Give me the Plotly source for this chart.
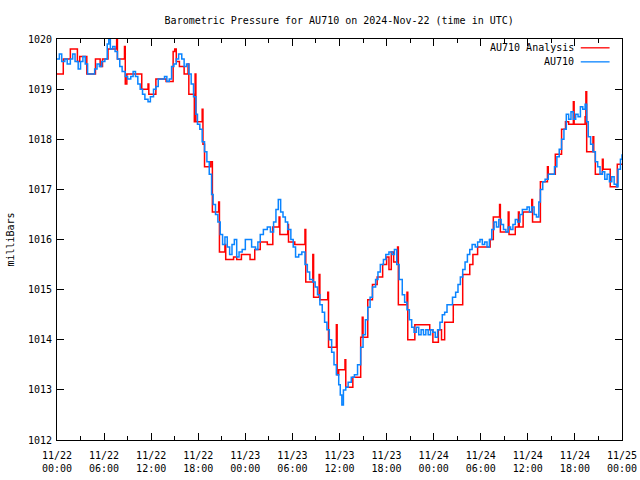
import pandas as pd
import plotly.graph_objects as go

# ---- data (hours since 2024-11-22 00:00 UTC, pressure in mb) ----
au710_hours = [0.0, 0.3, 0.6, 1.0, 1.3, 1.7, 2.0, 2.3, 2.7, 3.0, 3.3, 3.6, 3.9, 4.4, 4.8, 5.1, 5.4, 5.7,
               6.1, 6.4, 6.6, 6.8, 7.1, 7.4, 7.7, 8.0, 8.3, 8.7, 9.0, 9.4, 9.7, 10.0, 10.3, 10.6, 10.9,
               11.2, 11.6, 11.9, 12.3, 12.6, 12.9, 13.3, 13.7, 14.0, 14.3, 14.6, 14.9, 15.2, 15.5, 15.9,
               16.2, 16.5, 16.8, 17.1, 17.4, 17.7, 17.9, 18.2, 18.5, 18.8, 19.1, 19.4, 19.7, 19.9, 20.2,
               20.5, 20.8, 21.1, 21.4, 21.7, 22.0, 22.3, 22.6, 22.9, 23.2, 23.6, 24.0, 24.4, 24.8, 25.3,
               25.6, 25.9, 26.3, 26.8, 27.2, 27.6, 27.9, 28.2, 28.5, 28.8, 29.1, 29.4, 29.8, 30.1, 30.4,
               30.8, 31.2, 31.6, 31.9, 32.2, 32.6, 32.9, 33.2, 33.5, 33.8, 34.1, 34.4, 34.7, 35.0, 35.3,
               35.6, 35.9, 36.1, 36.3, 36.5, 36.8, 37.1, 37.5, 37.9, 38.3, 38.7, 39.0, 39.3, 39.6, 39.9,
               40.2, 40.6, 40.9, 41.2, 41.6, 41.9, 42.3, 42.7, 43.0, 43.3, 43.6, 44.0, 44.3, 44.6, 44.9,
               45.2, 45.5, 45.8, 46.1, 46.4, 46.7, 47.0, 47.3, 47.6, 47.9, 48.2, 48.5, 48.8, 49.1, 49.4,
               49.7, 50.1, 50.4, 50.8, 51.1, 51.4, 51.7, 52.0, 52.3, 52.6, 52.9, 53.3, 53.6, 53.9, 54.2,
               54.5, 54.8, 55.1, 55.4, 55.7, 56.0, 56.3, 56.6, 56.9, 57.2, 57.5, 57.8, 58.1, 58.4, 58.7,
               59.0, 59.3, 59.6, 59.9, 60.2, 60.5, 60.8, 61.1, 61.4, 61.6, 61.9, 62.2, 62.6, 63.0, 63.4,
               63.7, 64.0, 64.3, 64.6, 64.9, 65.2, 65.5, 65.8, 66.1, 66.4, 66.7, 67.0, 67.3, 67.5, 67.7,
               68.0, 68.3, 68.6, 68.9, 69.2, 69.5, 69.8, 70.1, 70.4, 70.7, 71.0, 71.3, 71.5, 71.8, 72.0]
au710_mb = [1019.6, 1019.7, 1019.55, 1019.6, 1019.5, 1019.6, 1019.7, 1019.55, 1019.4, 1019.55, 1019.65,
            1019.5, 1019.3, 1019.3, 1019.4, 1019.5, 1019.45, 1019.55, 1019.6, 1019.9, 1020.0, 1019.8,
            1019.85, 1019.75, 1019.6, 1019.45, 1019.35, 1019.25, 1019.2, 1019.25, 1019.35, 1019.25,
            1019.1, 1019.0, 1018.9, 1018.8, 1018.75, 1018.85, 1019.0, 1019.05, 1019.2, 1019.2, 1019.25,
            1019.15, 1019.2, 1019.45, 1019.5, 1019.6, 1019.7, 1019.6, 1019.45, 1019.5, 1019.3, 1019.1,
            1018.85, 1018.5, 1018.3, 1018.2, 1017.95, 1017.75, 1017.55, 1017.3, 1016.9, 1016.7, 1016.5,
            1016.35, 1016.1, 1015.9, 1016.05, 1015.85, 1015.7, 1015.9, 1016.0, 1015.65, 1015.75, 1015.8,
            1016.0, 1016.0, 1015.85, 1015.8, 1015.95, 1016.1, 1016.2, 1016.25, 1016.15, 1016.35, 1016.6,
            1016.8, 1016.55, 1016.45, 1016.35, 1016.2, 1016.0, 1015.85, 1015.65, 1015.7, 1015.75, 1015.5,
            1015.35, 1015.2, 1015.15, 1015.05, 1014.9, 1014.7, 1014.55, 1014.35, 1014.2, 1014.0, 1013.75,
            1013.5, 1013.3, 1013.1, 1012.9, 1012.7, 1013.0, 1013.05, 1013.15, 1013.25, 1013.3, 1013.5,
            1013.85, 1014.1, 1014.4, 1014.65, 1014.85, 1015.05, 1015.2, 1015.35, 1015.5, 1015.6, 1015.7,
            1015.75, 1015.7, 1015.8, 1015.5, 1015.2, 1014.9, 1014.75, 1014.6, 1014.4, 1014.25, 1014.15,
            1014.25, 1014.1, 1014.2, 1014.1, 1014.2, 1014.1, 1014.2, 1014.15, 1014.05, 1014.2, 1014.35,
            1014.5, 1014.55, 1014.7, 1014.7, 1014.85, 1014.95, 1015.1, 1015.25, 1015.4, 1015.55, 1015.7,
            1015.8, 1015.9, 1015.85, 1015.95, 1016.0, 1015.9, 1015.95, 1015.85, 1016.0, 1016.2, 1016.35,
            1016.25, 1016.4, 1016.3, 1016.2, 1016.15, 1016.25, 1016.2, 1016.3, 1016.4, 1016.35, 1016.5,
            1016.6, 1016.6, 1016.65, 1016.55, 1016.65, 1016.5, 1016.45, 1016.75, 1017.0, 1017.15, 1017.2,
            1017.3, 1017.3, 1017.45, 1017.65, 1017.8, 1018.0, 1018.2, 1018.5, 1018.4, 1018.55, 1018.4,
            1018.5, 1018.45, 1018.65, 1018.6, 1018.7, 1018.35, 1018.05, 1017.9, 1017.75, 1017.55, 1017.45,
            1017.3, 1017.35, 1017.2, 1017.3, 1017.15, 1017.25, 1017.1, 1017.05, 1017.4, 1017.6, 1017.7]

analysis_hours = [0.0, 0.8, 1.7, 2.6, 2.9, 3.8, 4.9, 5.5, 5.8, 6.5, 7.6, 7.7, 8.6, 8.7, 8.9, 10.8, 11.6,
                  11.7, 12.6, 13.9, 14.8, 15.0, 15.2, 15.6, 16.2, 16.7, 16.8, 17.5, 17.6, 17.7, 18.5,
                  18.6, 18.8, 19.6, 19.8, 20.6, 20.7, 21.4, 21.5, 22.5, 22.9, 23.5, 24.6, 25.2, 25.9,
                  26.8, 27.5, 28.3, 28.4, 29.4, 29.5, 30.3, 31.6, 31.7, 32.6, 32.7, 33.4, 33.5, 34.5,
                  34.6, 35.6, 35.7, 35.9, 36.7, 36.8, 37.7, 38.7, 38.9, 39.0, 39.6, 40.2, 40.8, 41.5,
                  42.0, 42.3, 42.6, 42.9, 43.4, 43.5, 44.6, 44.7, 45.6, 47.5, 47.9, 48.6, 49.0, 49.4,
                  50.5, 51.7, 52.6, 53.0, 53.6, 55.2, 55.6, 56.4, 56.5, 57.5, 57.6, 58.4, 58.8, 58.9,
                  59.4, 60.5, 60.6, 61.6, 62.5, 62.6, 63.5, 64.3, 64.8, 65.2, 65.8, 65.9, 66.3, 67.3,
                  67.4, 67.5, 68.3, 68.4, 68.6, 69.5, 69.6, 70.5, 71.4, 72.0]
analysis_mb = [1019.3, 1019.6, 1019.8, 1019.55, 1019.65, 1019.3, 1019.6, 1019.45, 1019.6, 1019.8, 1020.0,
               1019.6, 1019.85, 1019.1, 1019.3, 1019.0, 1019.1, 1018.9, 1019.2, 1019.15, 1019.75, 1019.8,
               1019.55, 1019.45, 1019.3, 1019.5, 1018.9, 1018.35, 1019.3, 1018.35, 1018.6, 1017.9,
               1017.45, 1017.55, 1016.55, 1016.75, 1015.75, 1015.9, 1015.6, 1015.65, 1015.6, 1015.7,
               1015.6, 1015.8, 1015.95, 1015.9, 1016.25, 1016.45, 1016.1, 1016.3, 1015.95, 1015.9,
               1016.2, 1015.15, 1015.7, 1014.85, 1015.3, 1014.8, 1014.95, 1013.85, 1014.3, 1013.3,
               1013.4, 1013.6, 1013.05, 1013.25, 1014.05, 1014.45, 1014.05, 1014.8, 1015.1, 1015.25,
               1015.5, 1015.65, 1015.4, 1015.75, 1015.55, 1015.85, 1014.7, 1014.95, 1014.0, 1014.3,
               1014.2, 1013.95, 1014.2, 1014.0, 1014.35, 1014.7, 1015.3, 1015.5, 1015.7, 1015.85, 1016.0,
               1016.45, 1016.7, 1016.15, 1016.55, 1016.1, 1016.25, 1016.55, 1016.25, 1016.55, 1016.8,
               1016.35, 1017.15, 1017.45, 1017.3, 1017.7, 1018.2, 1018.35, 1018.3, 1018.75, 1018.3,
               1018.3, 1018.45, 1018.95, 1017.75, 1018.05, 1017.75, 1017.3, 1017.6, 1017.4, 1017.05,
               1017.5, 1017.5]

start = pd.Timestamp("2024-11-22 00:00")
t_au = start + pd.to_timedelta(au710_hours, unit="h")
t_an = start + pd.to_timedelta(analysis_hours, unit="h")

FONT = "DejaVu Sans Mono"
RED = "#ff0000"
BLUE = "#0a84ff"

fig = go.Figure()
fig.add_trace(go.Scatter(x=t_an, y=analysis_mb, mode="lines", line=dict(color=RED, width=1.5, shape="hv"),
                         name="AU710 Analysis"))
fig.add_trace(go.Scatter(x=t_au, y=au710_mb, mode="lines", line=dict(color=BLUE, width=1.5, shape="hv"),
                         name="AU710"))

fig.update_layout(
    width=640, height=480,
    margin=dict(l=57, r=18, t=39, b=40, autoexpand=False),
    paper_bgcolor="white", plot_bgcolor="white",
    showlegend=False,
    font=dict(family=FONT, size=10, color="black"),
    title=dict(text="Barometric Pressure for AU710 on 2024-Nov-22 (time in UTC)", x=0.53, xanchor="center",
               y=1 - 20 / 480, yanchor="middle", font=dict(family=FONT, size=10)),
)
fig.update_xaxes(
    range=[start, start + pd.Timedelta(hours=72)], type="date", automargin=False,
    tick0=start, dtick=6 * 3600 * 1000, tickformat="%m/%d<br>%H:%M", ticklabelstandoff=6,
    ticks="inside", ticklen=7, tickcolor="black", showline=True, linecolor="black", linewidth=1,
    mirror="ticks", showgrid=False, zeroline=False,
    minor=dict(ticks="inside", dtick=3 * 3600 * 1000, ticklen=4, tickcolor="black", showgrid=False),
)
fig.update_yaxes(
    range=[1012, 1020], dtick=1, tickformat="d", automargin=False, ticklabelstandoff=2,
    ticks="inside", ticklen=7, tickcolor="black", showline=True, linecolor="black", linewidth=1,
    mirror="ticks", showgrid=False, zeroline=False,
)

# legend drawn gnuplot-style (text left of sample line)
leg = [("AU710 Analysis", RED, 0.978), ("AU710", BLUE, 0.943)]
for label, col, yy in leg:
    fig.add_annotation(text=label, x=0.918, y=yy, xref="paper", yref="paper", xanchor="right",
                       yanchor="middle", showarrow=False, font=dict(family=FONT, size=10))
    fig.add_shape(type="line", x0=0.927, x1=0.978, y0=yy, y1=yy, xref="paper", yref="paper",
                  line=dict(color=col, width=1.3))

fig.add_annotation(text="milliBars", x=-0.083, y=0.5, xref="paper", yref="paper", textangle=-90,
                   showarrow=False, xanchor="center", yanchor="middle", font=dict(family=FONT, size=10))

fig.write_html("out.html")
